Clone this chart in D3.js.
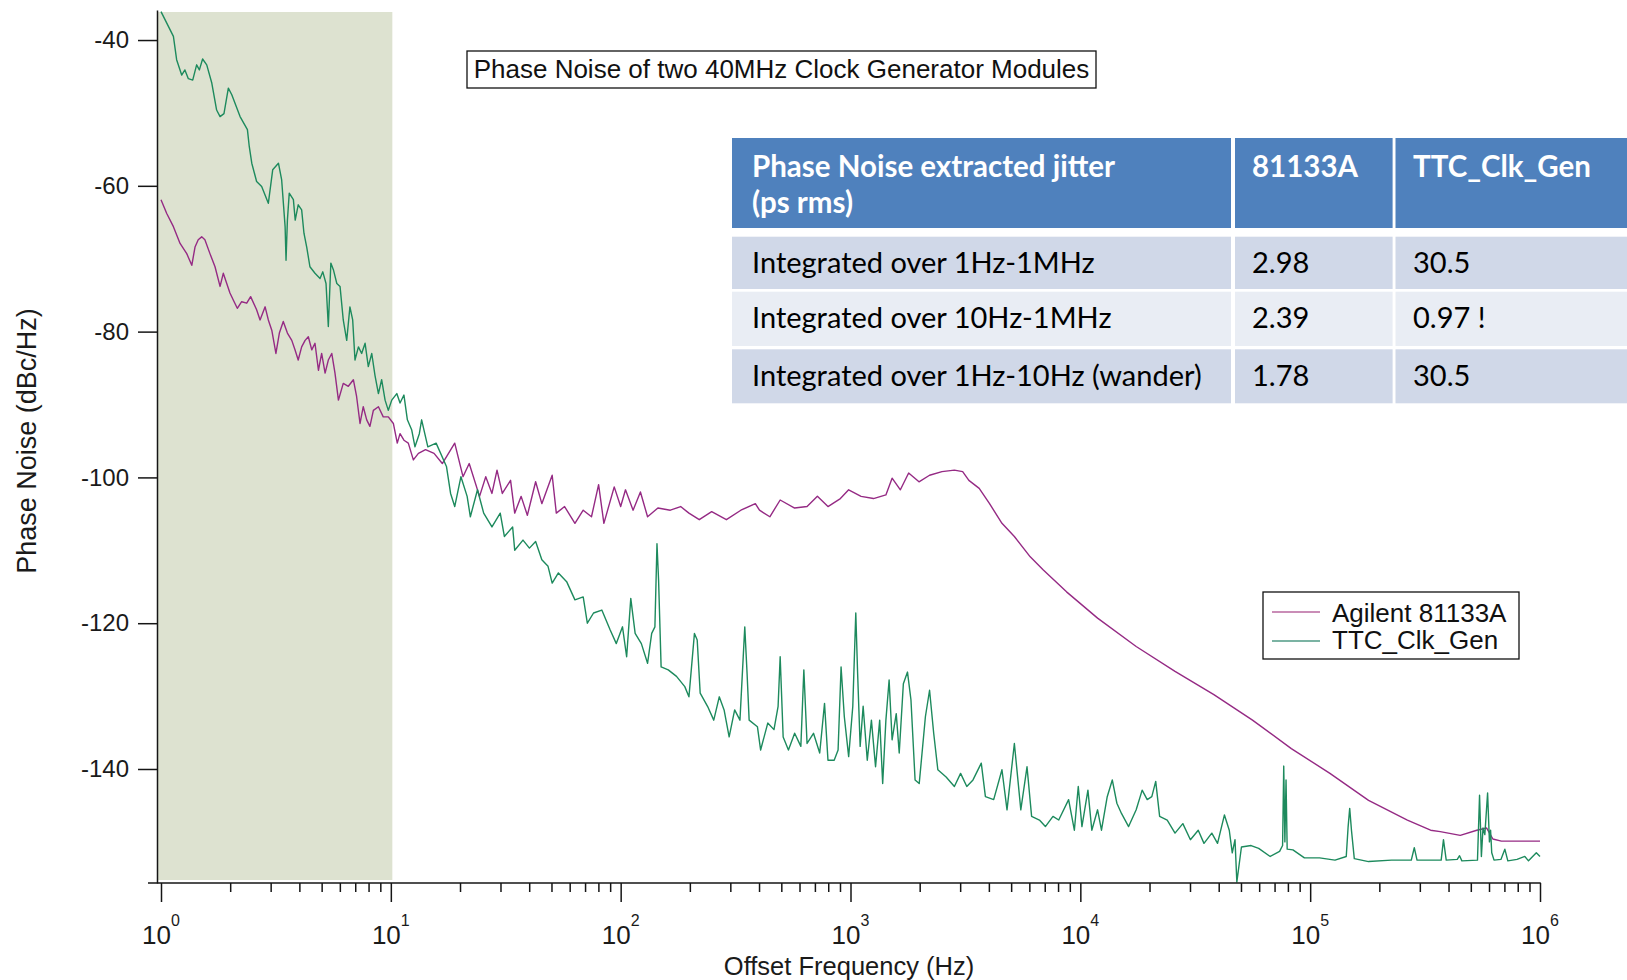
<!DOCTYPE html>
<html>
<head>
<meta charset="utf-8">
<script src="https://cdn.jsdelivr.net/npm/d3@7"></script>
<style>
    body { margin: 0; background: #fff; }
    svg { display: block; }
</style>
</head>
<body>
<div id="chart"></div>
<script>

// Series: [log10(offset freq / Hz), phase noise dBc/Hz]
var agilentPts = [
    [0.000,-61.9],[0.025,-63.8],[0.054,-65.6],[0.083,-67.9],[0.112,-69.3],[0.134,-70.9],[0.148,-68.4],[0.162,-67.4],
    [0.177,-67.0],[0.191,-67.4],[0.213,-69.3],[0.235,-71.1],[0.257,-73.8],[0.271,-72.0],[0.300,-74.7],[0.315,-75.7],
    [0.332,-76.8],[0.351,-75.9],[0.373,-76.1],[0.390,-75.2],[0.416,-77.0],[0.431,-78.4],[0.453,-76.6],[0.467,-78.4],
    [0.482,-79.8],[0.500,-83.0],[0.515,-80.2],[0.532,-78.6],[0.550,-80.2],[0.569,-81.2],[0.583,-82.5],[0.597,-83.9],
    [0.612,-82.1],[0.627,-81.2],[0.641,-80.7],[0.656,-82.5],[0.670,-81.6],[0.685,-85.3],[0.699,-83.0],[0.714,-85.7],
    [0.728,-83.9],[0.743,-83.0],[0.757,-85.7],[0.772,-89.4],[0.793,-87.1],[0.815,-87.5],[0.837,-86.6],[0.851,-88.9],
    [0.866,-92.6],[0.880,-90.3],[0.895,-92.1],[0.909,-93.0],[0.924,-90.8],[0.946,-90.3],[0.967,-91.7],[0.989,-91.7],
    [1.011,-92.6],[1.028,-95.3],[1.040,-94.0],[1.057,-94.9],[1.076,-95.3],[1.098,-97.6],[1.120,-96.7],[1.151,-96.2],
    [1.188,-96.7],[1.224,-98.1],[1.278,-95.3],[1.314,-99.9],[1.341,-98.1],[1.386,-102.6],[1.413,-99.9],[1.440,-102.2],
    [1.462,-99.0],[1.485,-102.2],[1.521,-100.4],[1.539,-104.9],[1.567,-102.6],[1.594,-105.2],[1.630,-100.6],[1.657,-103.6],
    [1.702,-99.7],[1.720,-104.9],[1.756,-104.0],[1.801,-106.3],[1.837,-104.5],[1.873,-105.4],[1.904,-101.0],[1.927,-106.3],
    [1.972,-101.3],[2.000,-104.0],[2.021,-101.7],[2.054,-104.5],[2.086,-102.0],[2.117,-105.4],[2.162,-104.2],[2.216,-104.5],
    [2.261,-104.0],[2.297,-104.9],[2.342,-105.8],[2.396,-104.7],[2.460,-105.8],[2.523,-104.5],[2.586,-103.6],[2.604,-104.5],
    [2.649,-105.4],[2.694,-103.1],[2.757,-104.2],[2.811,-104.0],[2.856,-102.6],[2.902,-104.0],[2.956,-102.9],[2.992,-101.7],
    [3.046,-102.6],[3.100,-102.9],[3.154,-102.4],[3.181,-100.1],[3.217,-101.7],[3.253,-99.4],[3.298,-100.6],[3.344,-99.7],
    [3.398,-99.2],[3.452,-99.0],[3.488,-99.2],[3.515,-100.4],[3.560,-101.5],[3.605,-103.6],[3.659,-106.3],[3.713,-108.1],
    [3.782,-110.9],[3.839,-112.7],[3.940,-115.7],[4.075,-119.3],[4.243,-123.2],[4.412,-126.6],[4.581,-129.8],[4.749,-133.3],
    [4.918,-137.2],[5.086,-140.6],[5.254,-144.3],[5.423,-147.0],[5.524,-148.4],[5.566,-148.6],[5.653,-149.1],[5.725,-148.4],
    [5.768,-148.1],[5.795,-149.6],[5.832,-149.9],[6.000,-149.9]
];

var ttcPts = [
    [0.000,-36.1],[0.054,-39.5],[0.068,-42.7],[0.090,-44.8],[0.104,-44.1],[0.119,-45.3],[0.138,-45.5],[0.155,-43.4],
    [0.167,-44.1],[0.181,-42.6],[0.199,-43.4],[0.221,-45.9],[0.242,-49.6],[0.257,-50.5],[0.274,-50.1],[0.293,-46.6],
    [0.308,-47.5],[0.344,-50.5],[0.376,-52.3],[0.384,-54.6],[0.395,-56.9],[0.416,-59.4],[0.438,-60.1],[0.467,-62.4],
    [0.486,-57.8],[0.511,-56.9],[0.525,-59.2],[0.540,-65.6],[0.544,-70.2],[0.550,-64.7],[0.558,-61.0],[0.576,-61.9],
    [0.584,-64.7],[0.597,-62.6],[0.612,-63.3],[0.622,-66.5],[0.634,-68.4],[0.648,-71.1],[0.670,-72.0],[0.692,-72.7],
    [0.704,-71.8],[0.718,-73.4],[0.728,-79.3],[0.739,-70.6],[0.750,-71.5],[0.765,-73.4],[0.779,-73.8],[0.793,-78.4],
    [0.808,-81.2],[0.822,-76.6],[0.834,-78.4],[0.844,-83.9],[0.859,-82.1],[0.873,-83.0],[0.888,-81.6],[0.902,-84.8],
    [0.917,-83.0],[0.931,-86.0],[0.946,-88.5],[0.960,-86.6],[0.975,-89.4],[0.989,-90.8],[1.004,-89.4],[1.026,-88.5],
    [1.040,-89.8],[1.057,-88.7],[1.072,-92.1],[1.091,-93.5],[1.105,-95.8],[1.124,-94.0],[1.134,-92.1],[1.161,-95.8],
    [1.197,-95.3],[1.242,-98.5],[1.260,-102.2],[1.278,-104.0],[1.305,-99.9],[1.332,-102.6],[1.346,-105.4],[1.377,-101.7],
    [1.404,-104.9],[1.440,-106.8],[1.476,-104.9],[1.494,-108.1],[1.530,-106.8],[1.539,-110.0],[1.575,-108.6],[1.603,-109.7],
    [1.630,-108.8],[1.657,-111.3],[1.684,-112.2],[1.702,-114.5],[1.729,-113.1],[1.765,-114.3],[1.801,-116.8],[1.837,-116.4],
    [1.855,-120.0],[1.882,-118.6],[1.918,-118.2],[1.954,-120.9],[1.981,-122.8],[2.008,-120.5],[2.026,-124.6],[2.044,-116.6],
    [2.063,-121.4],[2.090,-122.8],[2.117,-125.5],[2.135,-121.4],[2.149,-120.5],[2.158,-109.1],[2.165,-114.1],[2.176,-126.0],
    [2.207,-126.4],[2.243,-127.3],[2.279,-128.7],[2.297,-130.1],[2.321,-121.4],[2.333,-122.3],[2.346,-129.6],[2.378,-131.4],
    [2.405,-133.3],[2.429,-130.1],[2.450,-131.9],[2.472,-135.6],[2.496,-131.9],[2.519,-133.3],[2.540,-120.5],[2.550,-126.9],
    [2.559,-133.3],[2.595,-134.2],[2.609,-137.4],[2.640,-133.7],[2.667,-134.6],[2.685,-131.4],[2.694,-124.6],[2.707,-135.6],
    [2.730,-137.4],[2.757,-135.1],[2.784,-136.9],[2.797,-126.4],[2.811,-136.5],[2.839,-135.1],[2.866,-137.8],[2.887,-131.0],
    [2.902,-138.8],[2.929,-138.8],[2.946,-137.4],[2.959,-126.0],[2.973,-132.8],[2.992,-138.3],[3.010,-131.4],[3.023,-118.6],
    [3.031,-126.9],[3.042,-136.9],[3.055,-131.4],[3.073,-138.8],[3.091,-133.3],[3.109,-139.7],[3.127,-133.3],[3.140,-142.0],
    [3.154,-133.3],[3.168,-127.8],[3.181,-136.0],[3.199,-132.4],[3.212,-137.8],[3.230,-128.3],[3.248,-126.7],[3.263,-130.5],
    [3.281,-141.5],[3.299,-142.0],[3.326,-132.8],[3.344,-129.2],[3.362,-135.1],[3.380,-140.1],[3.416,-141.1],[3.452,-142.4],
    [3.479,-140.6],[3.506,-142.4],[3.533,-141.5],[3.569,-139.2],[3.587,-143.8],[3.623,-144.2],[3.659,-140.1],[3.681,-145.6],
    [3.713,-136.5],[3.741,-145.6],[3.768,-139.7],[3.788,-146.5],[3.822,-147.0],[3.848,-147.9],[3.881,-146.5],[3.906,-147.0],
    [3.949,-144.2],[3.974,-148.4],[3.991,-142.4],[4.007,-147.9],[4.033,-142.9],[4.050,-148.4],[4.075,-145.6],[4.092,-148.4],
    [4.117,-143.8],[4.139,-141.5],[4.159,-144.7],[4.179,-146.1],[4.210,-147.9],[4.243,-145.6],[4.269,-142.9],[4.291,-144.2],
    [4.311,-143.8],[4.328,-141.7],[4.345,-146.5],[4.378,-147.0],[4.412,-148.8],[4.446,-147.5],[4.479,-149.7],[4.513,-148.4],
    [4.538,-150.2],[4.572,-148.8],[4.597,-150.2],[4.627,-146.3],[4.648,-148.4],[4.661,-151.5],[4.673,-149.7],[4.681,-155.5],
    [4.701,-150.7],[4.743,-150.5],[4.776,-150.9],[4.826,-152.0],[4.867,-151.3],[4.880,-150.5],[4.885,-139.6],[4.890,-150.0],
    [4.895,-141.5],[4.900,-151.0],[4.925,-151.1],[4.975,-152.2],[5.041,-152.2],[5.108,-152.5],[5.157,-152.0],[5.165,-148.0],
    [5.172,-145.4],[5.180,-148.5],[5.192,-152.3],[5.254,-152.7],[5.354,-152.5],[5.440,-152.5],[5.453,-150.8],[5.465,-152.5],
    [5.570,-152.5],[5.580,-149.7],[5.592,-152.5],[5.640,-152.4],[5.650,-151.9],[5.660,-152.6],[5.728,-152.5],[5.737,-143.6],
    [5.745,-152.0],[5.752,-148.1],[5.760,-149.0],[5.772,-143.3],[5.780,-150.0],[5.785,-148.4],[5.790,-151.5],[5.800,-152.5],
    [5.830,-152.4],[5.847,-151.0],[5.860,-152.6],[5.900,-152.4],[5.934,-152.0],[5.950,-152.6],[5.984,-151.5],[6.000,-152.0]
];

var seriesNames = ["Agilent 81133A", "TTC_Clk_Gen"];
var yTicks = [-40, -60, -80, -100, -120, -140];
var xDecades = [0, 1, 2, 3, 4, 5, 6];
var wanderBand = [1, 10];   // shaded 1 Hz - 10 Hz region

var chartTitle = "Phase Noise of two 40MHz Clock Generator Modules";
var xTitle = "Offset Frequency (Hz)";
var yTitle = "Phase Noise (dBc/Hz)";

var tableHead = [["Phase Noise extracted jitter", "(ps rms)"], ["81133A"], ["TTC_Clk_Gen"]];
var tableRows = [
    ["Integrated over 1Hz-1MHz", "2.98", "30.5"],
    ["Integrated over 10Hz-1MHz", "2.39", "0.97 !"],
    ["Integrated over 1Hz-10Hz (wander)", "1.78", "30.5"]
];

var width = 1627, height = 980;
var colors = {agilent: "#952a84", ttc: "#1d8a5d", shade: "#dde2d0", axis: "#151515"};
var axisFont = "'Liberation Sans', Arial, sans-serif";
var tableFont = "Lato, 'Open Sans', sans-serif";

var x = d3.scaleLog().domain([1, 1e6]).range([161, 1540]);
var y = d3.scaleLinear().domain([-35.88, -155.64]).range([10, 883]);

var svg = d3.select("#chart").append("svg")
    .attr("width", width)
    .attr("height", height)
    .style("background", "#fff");

drawPlot();
drawTable();

function drawPlot() {
    // wander band
    svg.append("rect")
        .attr("x", 157)
        .attr("y", 12)
        .attr("width", x(wanderBand[1]) - 157 + 1.5)
        .attr("height", 868)
        .attr("fill", colors.shade);

    svg.append("clipPath").attr("id", "plotclip")
        .append("rect")
        .attr("x", 157).attr("y", 10)
        .attr("width", 1390).attr("height", 873);

    var line = d3.line()
        .x(d => x(Math.pow(10, d[0])))
        .y(d => y(d[1]));

    var curves = svg.append("g").attr("clip-path", "url(#plotclip)");
    curves.append("path")
        .datum(agilentPts)
        .attr("d", line)
        .attr("fill", "none")
        .attr("stroke", colors.agilent)
        .attr("stroke-width", 1.4)
        .attr("stroke-linejoin", "round");
    curves.append("path")
        .datum(ttcPts)
        .attr("d", line)
        .attr("fill", "none")
        .attr("stroke", colors.ttc)
        .attr("stroke-width", 1.4)
        .attr("stroke-linejoin", "round");

    // y axis
    var yAxis = svg.append("g")
        .attr("transform", "translate(157,0)")
        .style("color", colors.axis)
        .call(d3.axisLeft(y).tickValues(yTicks).tickSize(19).tickPadding(9).tickSizeOuter(0)
            .tickFormat(d => String(d)));
    yAxis.selectAll("path, line").attr("stroke-width", 1.5);
    yAxis.selectAll("text")
        .style("font-family", axisFont)
        .style("font-size", "24px")
        .attr("fill", "#1a1a1a");

    // x axis with log minor ticks
    var xTickVals = [];
    xDecades.forEach(k => {
        xTickVals.push(Math.pow(10, k));
        if (k < 6) {
            for (var m = 2; m <= 9; m++) xTickVals.push(m * Math.pow(10, k));
        }
    });
    var isMajor = v => Math.abs(Math.log10(v) - Math.round(Math.log10(v))) < 1e-9;

    var xAxis = svg.append("g")
        .attr("transform", "translate(0,883)")
        .style("color", colors.axis)
        .call(d3.axisBottom(x).tickValues(xTickVals).tickSize(9).tickFormat(""));
    xAxis.select(".domain").remove();
    xAxis.selectAll(".tick line")
        .attr("y2", d => isMajor(d) ? 19 : 9)
        .attr("stroke-width", 1.5);
    svg.append("line")
        .attr("x1", 148).attr("x2", x(1e6) + 0.75)
        .attr("y1", 883).attr("y2", 883)
        .attr("stroke", colors.axis)
        .attr("stroke-width", 1.6);

    var xLabels = svg.append("g")
        .style("font-family", axisFont)
        .attr("fill", "#1a1a1a")
        .selectAll("text")
        .data(xDecades).enter()
        .append("text")
        .attr("x", d => x(Math.pow(10, d)))
        .attr("y", 944)
        .attr("text-anchor", "middle");
    xLabels.append("tspan").style("font-size", "26px").text("10");
    xLabels.append("tspan").style("font-size", "16px").attr("dy", -18).text(d => d);

    // axis titles
    svg.append("text")
        .attr("x", 849).attr("y", 974.5)
        .attr("text-anchor", "middle")
        .style("font-family", axisFont)
        .style("font-size", "25.5px")
        .attr("fill", "#1a1a1a")
        .text(xTitle);
    svg.append("text")
        .attr("transform", "translate(36,441) rotate(-90)")
        .attr("text-anchor", "middle")
        .style("font-family", axisFont)
        .style("font-size", "27px")
        .attr("fill", "#1a1a1a")
        .text(yTitle);

    // boxed title
    svg.append("rect")
        .attr("x", 467).attr("y", 51)
        .attr("width", 629).attr("height", 37)
        .attr("fill", "#fff")
        .attr("stroke", "#111")
        .attr("stroke-width", 1.3);
    svg.append("text")
        .attr("x", 781.5).attr("y", 77.5)
        .attr("text-anchor", "middle")
        .style("font-family", axisFont)
        .style("font-size", "26px")
        .attr("fill", "#111")
        .text(chartTitle);

    // legend
    var legend = svg.append("g").attr("transform", "translate(1263,592)");
    legend.append("rect")
        .attr("width", 256).attr("height", 67)
        .attr("fill", "#fff")
        .attr("stroke", "#111")
        .attr("stroke-width", 1.3);
    var legendColors = ["#b8679f", "#4f9a85"];
    seriesNames.forEach((name, i) => {
        legend.append("line")
            .attr("x1", 9).attr("x2", 57)
            .attr("y1", 20 + i * 29).attr("y2", 20 + i * 29)
            .attr("stroke", legendColors[i])
            .attr("stroke-width", 1.3);
        legend.append("text")
            .attr("x", 69).attr("y", 30 + i * 27)
            .style("font-family", axisFont)
            .style("font-size", "26px")
            .attr("fill", "#111")
            .text(name);
    });
}

function drawTable() {
    var colX = [732, 1235, 1395.5];
    var colW = [499, 157.6, 240];
    var pad = [20, 17, 17.5];
    var rowY = [236.7, 291.7, 349.3];
    var rowH = [52.3, 54.3, 54];
    var rowFill = ["#d0d8e8", "#e9edf4", "#d0d8e8"];

    var tbl = svg.append("g").style("font-family", tableFont);

    tableHead.forEach((lines, c) => {
        tbl.append("rect")
            .attr("x", colX[c]).attr("y", 138)
            .attr("width", colW[c]).attr("height", 90)
            .attr("fill", "#4f81bd");
        lines.forEach((txt, j) => {
            tbl.append("text")
                .attr("x", colX[c] + pad[c])
                .attr("y", 177 + j * 36)
                .style("font-size", "29.5px")
                .style("font-weight", "bold")
                .attr("fill", "#fff")
                .text(txt);
        });
    });

    tableRows.forEach((row, r) => {
        row.forEach((txt, c) => {
            tbl.append("rect")
                .attr("x", colX[c]).attr("y", rowY[r])
                .attr("width", colW[c]).attr("height", rowH[r])
                .attr("fill", rowFill[r]);
            tbl.append("text")
                .attr("x", colX[c] + pad[c])
                .attr("y", rowY[r] + 36.5)
                .style("font-size", "29px")
                .attr("fill", "#000")
                .text(txt);
        });
    });
}

</script>
</body>
</html>
